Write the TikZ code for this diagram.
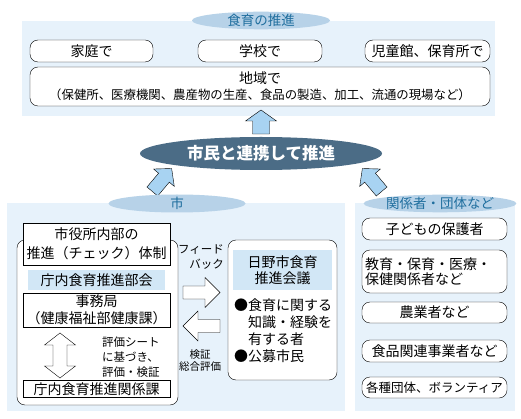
\documentclass[tikz,border=0pt]{standalone}
\usepackage{fontspec}
\setmainfont{Noto Sans CJK JP}
\usetikzlibrary{shapes.geometric}

\definecolor{panelbg}{HTML}{E7F2FB}
\definecolor{ttlfill}{HTML}{B7D2E8}
\definecolor{ttltext}{HTML}{1F6E9E}
\definecolor{mainfill}{HTML}{4B6C86}
\definecolor{arrfill}{HTML}{A8D3F2}
\definecolor{hdrfill}{HTML}{D2E7F6}

\tikzset{
  panel/.style={fill=panelbg},
  ttl/.style={ellipse, fill=ttlfill, text=ttltext, inner sep=0pt,
    font=\fontsize{13.5}{15}\selectfont},
  rbox/.style={draw, rounded corners=8pt, fill=white, inner sep=0pt, align=center,
    font=\fontsize{14}{16}\selectfont},
  sbox/.style={draw, fill=white, inner sep=0pt, align=center,
    font=\fontsize{14}{19}\selectfont},
  hdr/.style={fill=hdrfill, inner sep=0pt, align=center,
    font=\fontsize{14}{16}\selectfont},
  note/.style={inner sep=0pt, font=\fontsize{11.5}{15}\selectfont},
  bluearr/.style={draw, fill=arrfill, line join=miter},
  whitearr/.style={draw, fill=white, line join=miter}
}

% block arrow: style, centre, angle, length, shaft, head width, head length
\newcommand{\blockarrow}[7]{%
  \draw[#1, shift={#2}, rotate=#3]
    (-#4/2,-#5/2) -- (#4/2-#7,-#5/2) -- (#4/2-#7,-#6/2) -- (#4/2,0)
    -- (#4/2-#7,#6/2) -- (#4/2-#7,#5/2) -- (-#4/2,#5/2) -- cycle;}

\begin{document}
\begin{tikzpicture}[x=1pt, y=-1pt]
  \useasboundingbox[fill=white] (0,0) rectangle (521,419);

  % top: shokuiku no suishin
  \fill[panel] (22,21) rectangle (495,116);
  \node[ttl, minimum width=138, minimum height=17] (suishin) at (261,20.5) {食育の推進};
  \node[rbox, minimum width=123, minimum height=22] (katei) at (91.5,51) {家庭で};
  \node[rbox, minimum width=124, minimum height=22] (gakko) at (260,51) {学校で};
  \node[rbox, minimum width=125, minimum height=22] (jido) at (427.5,51) {児童館、保育所で};
  \node[rbox, minimum width=460, minimum height=39] (chiiki) at (260,86.5)
    {地域で\\{\fontsize{12.4}{16}\selectfont （保健所、医療機関、農産物の生産、食品の製造、加工、流通の現場など）}};

  % centre
  \node[ellipse, fill=mainfill, text=white, inner sep=0pt, minimum width=242, minimum height=33,
    font=\fontsize{16.5}{18}\selectfont\bfseries] (renkei) at (261,153.5) {市民と連携して推進};
  \blockarrow{bluearr}{(261,122)}{90}{24}{17}{31}{11}
  \blockarrow{bluearr}{(162,180)}{50}{30}{14}{27}{12}
  \blockarrow{bluearr}{(372,180)}{130}{30}{14}{27}{12}

  % left: shi
  \fill[panel] (7,203) rectangle (345,411);
  \node[ttl, minimum width=137, minimum height=18] (shi) at (177,203.5) {市};
  \node[draw, rounded corners=8pt, fill=white, minimum width=161, minimum height=165] (taisei)
    at (97.5,322.5) {};
  \node[sbox, minimum width=147, minimum height=42] (yakusho) at (96.5,244)
    {市役所内部の\\推進（チェック）体制};
  \node[hdr, minimum width=137, minimum height=20] (bukai) at (96.5,280) {庁内食育推進部会};
  \node[sbox, minimum width=147, minimum height=34, font=\fontsize{14}{17}\selectfont]
    (jimukyoku) at (96.5,310) {事務局\\（健康福祉部健康課）};
  \node[sbox, minimum width=147, minimum height=17] (kankeika) at (96.5,389) {庁内食育推進関係課};
  \draw[whitearr] (60,333) -- (75.5,345) -- (67,345) -- (67,366) -- (75.5,366) -- (60,378)
    -- (44.5,366) -- (53,366) -- (53,345) -- (44.5,345) -- cycle;
  \node[note, align=left, anchor=west] (hyoka) at (102,357) {評価シート\\に基づき、\\評価・検証};

  \node[note, align=right] (feedback) at (201,257.5) {フィード\\バック};
  \blockarrow{whitearr}{(201.5,292.5)}{0}{37}{13}{30}{15}
  \blockarrow{whitearr}{(201.5,326)}{180}{37}{13}{30}{15}
  \node[note, align=center, font=\fontsize{10.5}{12}\selectfont] (kensho) at (200,361) {検証\\総合評価};

  \node[draw, rounded corners=8pt, fill=white, minimum width=109, minimum height=140] (kaigi)
    at (282.5,310) {};
  \node[hdr, minimum width=99, minimum height=40] (kaigihdr) at (282.5,270) {日野市食育\\推進会議};
  \node[inner sep=0pt, align=left, anchor=north west, font=\fontsize{14}{16.7}\selectfont]
    (iin) at (234,299) {●食育に関する\\\hphantom{●}知識・経験を\\\hphantom{●}有する者\\●公募市民};

  % right: kankeisha
  \fill[panel] (355,203) rectangle (515,411);
  \node[ttl, minimum width=145, minimum height=17] (kankeisha) at (440,203.5) {関係者・団体など};
  \node[rbox, minimum width=145, minimum height=22] (hogosha) at (434.5,229) {子どもの保護者};
  \node[rbox, minimum width=145, minimum height=43, text width=139, align=left,
    font=\fontsize{14}{15}\selectfont] (kyoiku) at (434.5,271.5) {教育・保育・医療・\\保健関係者など};
  \node[rbox, minimum width=145, minimum height=21] (nogyo) at (434.5,312.5) {農業者など};
  \node[rbox, minimum width=145, minimum height=22] (shokuhin) at (434.5,351) {食品関連事業者など};
  \node[rbox, minimum width=145, minimum height=21, font=\fontsize{12.5}{15}\selectfont]
    (dantai) at (434.5,387.5) {各種団体、ボランティア};
\end{tikzpicture}
\end{document}
